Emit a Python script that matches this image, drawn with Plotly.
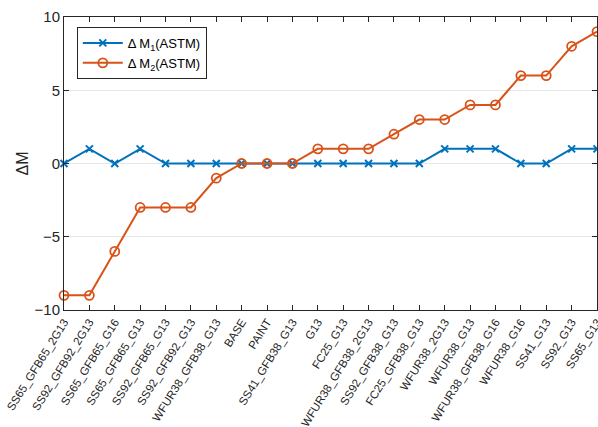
import plotly.graph_objects as go

cases = [
    "SS65_GFB65_2G13", "SS92_GFB92_2G13", "SS65_GFB65_G16", "SS65_GFB65_G13",
    "SS92_GFB65_G13", "SS92_GFB92_G13", "WFUR38_GFB38_G13", "BASE", "PAINT",
    "SS41_GFB38_G13", "G13", "FC25_G13", "WFUR38_GFB38_2G13", "SS92_GFB38_G13",
    "FC25_GFB38_G13", "WFUR38_2G13", "WFUR38_G13", "WFUR38_GFB38_G16",
    "WFUR38_G16", "SS41_G13", "SS92_G13", "SS65_G13",
]
delta_m1 = [0, 1, 0, 1, 0, 0, 0, 0, 0, 0, 0, 0, 0, 0, 0, 1, 1, 1, 0, 0, 1, 1]
delta_m2 = [-9, -9, -6, -3, -3, -3, -1, 0, 0, 0, 1, 1, 1, 2, 3, 3, 4, 4, 6, 6, 8, 9]

blue = "#0072BD"
orange = "#D95319"
axis_col = "#262626"
font_family = "Liberation Sans, Arial, Helvetica, sans-serif"

x_idx = list(range(len(cases)))

fig = go.Figure()
fig.add_trace(go.Scatter(
    x=x_idx, y=delta_m1, mode="lines+markers",
    name="Δ M<sub>1</sub>(ASTM)",
    line=dict(color=blue, width=2),
    marker=dict(symbol="x-thin-open", size=7, line=dict(color=blue, width=2)),
    cliponaxis=False,
))
fig.add_trace(go.Scatter(
    x=x_idx, y=delta_m2, mode="lines+markers",
    name="Δ M<sub>2</sub>(ASTM)",
    line=dict(color=orange, width=2),
    marker=dict(symbol="circle-open", size=9, line=dict(color=orange, width=1.8)),
    cliponaxis=False,
))

fig.update_layout(
    width=598, height=427,
    margin=dict(l=64, r=1, t=17, b=117),
    paper_bgcolor="white", plot_bgcolor="white",
    font=dict(family=font_family, color=axis_col),
    showlegend=True,
    legend=dict(
        x=0.024, y=0.966, xanchor="left", yanchor="top",
        bgcolor="white", bordercolor=axis_col, borderwidth=1,
        font=dict(size=13, color="#000000"),
        tracegroupgap=0, itemwidth=40,
    ),
)

fig.update_xaxes(
    range=[0, len(cases) - 1],
    tickmode="array", tickvals=x_idx, ticktext=cases,
    tickangle=-58, tickfont=dict(size=11.5, color=axis_col),
    ticklabeloverflow="allow", automargin=False,
    ticks="inside", ticklen=5, tickcolor=axis_col,
    showline=True, linecolor=axis_col, linewidth=1, mirror="allticks",
    showgrid=False, zeroline=False,
)
fig.update_yaxes(
    range=[-10, 10],
    tickvals=[-10, -5, 0, 5, 10],
    tickfont=dict(size=15, color=axis_col),
    automargin=False,
    ticks="inside", ticklen=5, tickcolor=axis_col,
    showline=True, linecolor=axis_col, linewidth=1, mirror="allticks",
    showgrid=True, gridcolor="#E6E6E6", gridwidth=1, zeroline=False,
    title=dict(text="ΔM", font=dict(size=16, color=axis_col), standoff=1),
)

fig.write_html("out.html")
